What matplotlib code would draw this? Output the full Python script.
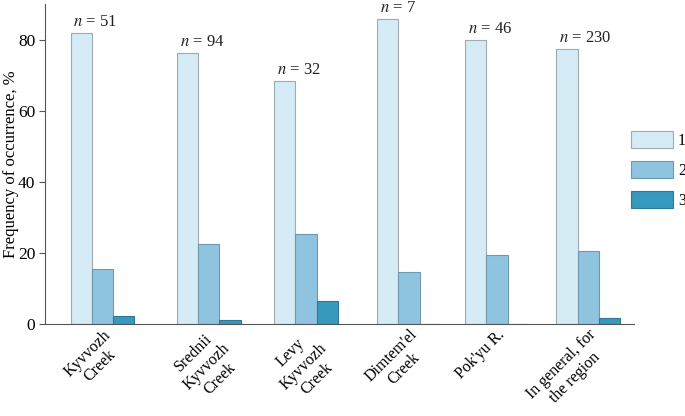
import numpy as np
import matplotlib
matplotlib.use("Agg")
import matplotlib.pyplot as plt

plt.rcParams['font.family'] = ['Liberation Serif', 'DejaVu Serif']
plt.rcParams['mathtext.fontset'] = 'stix'

# data
sites = ["Kyvvozh\nCreek", "Srednii\nKyvvozh\nCreek", "Levy\nKyvvozh\nCreek",
         "Dimtem'el\nCreek", "Pok'yu R.", "In general, for\nthe region"]
n_obs = [51, 94, 32, 7, 46, 230]
s1 = [81.8, 76.2, 68.4, 85.7, 80.0, 77.4]
s2 = [15.4, 22.5, 25.3, 14.6, 19.3, 20.5]
s3 = [2.2, 1.0, 6.5, 0.0, 0.0, 1.7]
series_names = ["1", "2", "3"]

# layout (group centres, bar width)
xpos = np.array([102.5, 208.8, 306.0, 409.0, 497.0, 588.3])
w = 21.2
cols = ['#d5ebf5', '#8fc4e1', '#3899be']
edges = ['#9eaab2', '#6f98ad', '#2f7894']

fig = plt.figure(figsize=(6.85, 4.16), dpi=100)
ax = fig.add_axes([45/685, 92/416, (634-45)/685, 320/416])

for k, vals in enumerate([s1, s2, s3]):
    ax.bar(xpos + (k-1)*w, vals, w, color=cols[k], edgecolor=edges[k],
           linewidth=0.8, label=series_names[k])

for i in range(len(xpos)):
    ax.text(xpos[i] - 1.5*w + 2.5, s1[i] + 3.1, r"$n$ = %d" % n_obs[i],
            fontsize=12, va='center', ha='left', color='#222222')

ax.set_xlim(45, 634)
ax.set_ylim(0, 90)
ax.set_yticks([0, 20, 40, 60, 80])
ax.set_xticks(xpos)
ax.set_xticklabels(sites, rotation=45, ha='right', rotation_mode='anchor',
                   multialignment='center', fontsize=11.5)
ax.tick_params(axis='x', length=0, pad=2)
ax.tick_params(axis='y', labelsize=12.5, length=4, color='#555555', pad=3)
ax.set_ylabel("Frequency of occurrence, %", fontsize=12)
ax.yaxis.set_label_coords(-26/589, 0.5)
for s in ['top', 'right']:
    ax.spines[s].set_visible(False)
for s in ['left', 'bottom']:
    ax.spines[s].set_color('#555555')

ax.legend(loc='upper left', bbox_to_anchor=(631/685, 1 - 131/416),
          bbox_transform=fig.transFigure, frameon=False, borderpad=0,
          borderaxespad=0, fontsize=11.5, handlelength=2.6, handleheight=1.3,
          labelspacing=0.75, handletextpad=0.35)

fig.savefig("out.png", dpi=100)
